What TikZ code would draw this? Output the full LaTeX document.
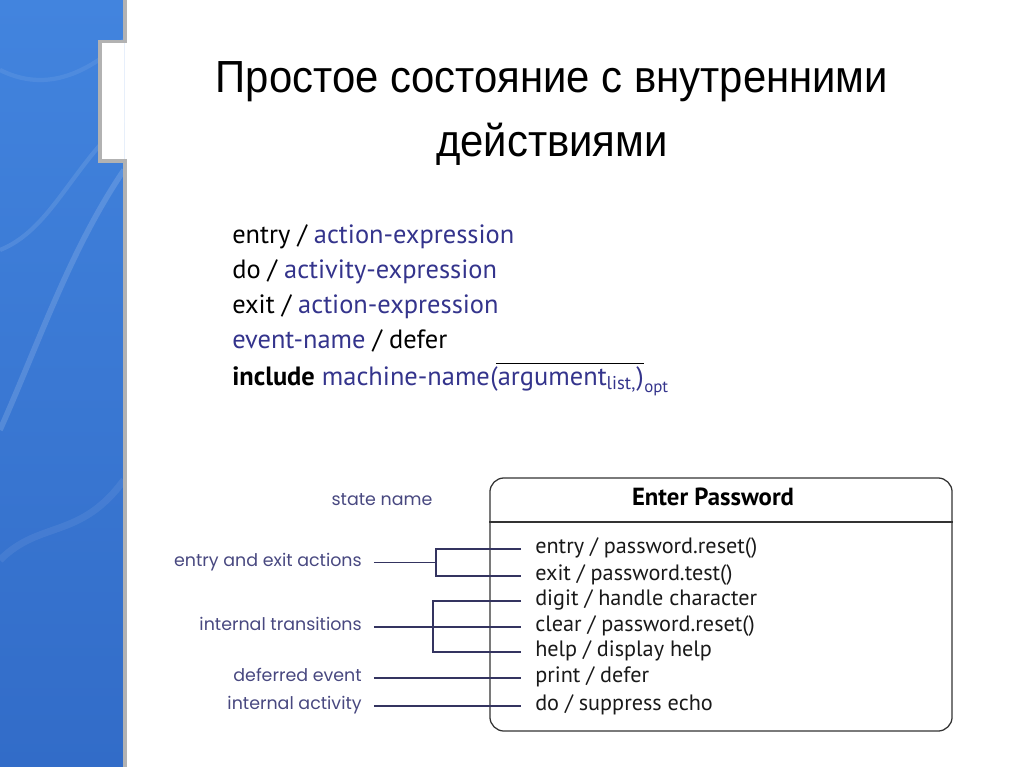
\documentclass[tikz,border=0pt]{standalone}
\usepackage{fontspec}
\setmainfont{PT Sans}
\newfontfamily\titlefont{Liberation Sans}[FakeStretch=0.93]
\newfontfamily\notefont{Poppins}
\usetikzlibrary{positioning,calc}

\definecolor{exprblue}{RGB}{52,52,140}
\definecolor{noteblue}{RGB}{72,72,128}
\definecolor{wireblue}{RGB}{52,52,96}
\definecolor{panellight}{RGB}{66,132,222}
\definecolor{paneldark}{RGB}{50,108,200}
\definecolor{edgegrey}{RGB}{178,178,178}

\tikzset{
  heading/.style={anchor=base, inner sep=0pt, font=\titlefont\fontsize{32}{38}\selectfont},
  syntax/.style={anchor=base west, inner sep=0pt, font=\fontsize{18.8}{22}\selectfont},
  row/.style={anchor=base west, inner sep=0pt, text=black!90, font=\fontsize{15.8}{18}\selectfont},
  note/.style={anchor=mid east, inner sep=0pt, text=noteblue, font=\notefont\fontsize{12.4}{15}\selectfont},
  wire/.style={draw=wireblue, line width=1pt},
  statebox/.style={draw=black!80, line width=0.9pt, rounded corners=10pt},
}

\begin{document}
\begin{tikzpicture}[x=0.025cm, y=-0.025cm]
  \useasboundingbox (0,0) rectangle (1024,767);

  % side panel
  \shade[top color=panellight, bottom color=paneldark] (0,0) rectangle (124,767);
  \draw[white, opacity=0.14, line width=4pt] (0,430) .. controls (40,340) and (70,250) .. (124,170);
  \draw[white, opacity=0.10, line width=3pt] (0,250) .. controls (50,230) and (70,170) .. (124,120);
  \draw[white, opacity=0.08, line width=3pt] (0,70) .. controls (40,90) and (80,80) .. (124,40);
  \draw[white, opacity=0.07, line width=5pt] (0,560) .. controls (40,520) and (80,540) .. (124,480);
  \fill[white] (100,41.5) rectangle (124,161);
  \draw[edgegrey, line width=2.8pt] (125,0) -- (125,41.5) -- (100,41.5) -- (100,161) -- (125,161) -- (125,767);

  % title
  \node[heading] (titleA) at (552,93) {Простое состояние с внутренними};
  \node[heading] (titleB) at (552,157) {действиями};

  % syntax
  \node[syntax] (sEntry) at (232,243) {entry / \textcolor{exprblue}{action-expression}};
  \node[syntax] (sDo) at (232,278) {do / \textcolor{exprblue}{activity-expression}};
  \node[syntax] (sExit) at (232,313) {exit / \textcolor{exprblue}{action-expression}};
  \node[syntax] (sDefer) at (232,348) {\textcolor{exprblue}{event-name} / defer};
  \node[syntax] (sInc) at (232,385) {\textbf{include} \textcolor{exprblue}{machine-name}};
  \node[syntax, text=exprblue] (sArgs) at (sInc.base east) {(argument\textsubscript{list,})};
  \node[syntax, text=exprblue, font=\fontsize{12}{14}\selectfont] (sOpt) at ([yshift=-5pt]sArgs.base east) {opt};
  \draw[black, line width=0.8pt] ([shift={(4pt,2pt)}]sArgs.north west) -- ([yshift=2pt]sArgs.north east);

  % state
  \node[statebox, minimum width=11.55cm, minimum height=6.325cm] (state) at (721,604.5) {};
  \draw[statebox, rounded corners=0pt] (state.west |- 0,522) -- (state.east |- 0,522);
  \node[anchor=base, inner sep=0pt, font=\bfseries\fontsize{17.6}{20}\selectfont] (stName) at (713,505) {Enter Password};

  \node[row] (rEntry) at (535,553) {entry / password.reset()};
  \node[row] (rExit) at (535,580) {exit / password.test()};
  \node[row] (rDigit) at (535,605) {digit / handle character};
  \node[row] (rClear) at (535,631) {clear / password.reset()};
  \node[row] (rHelp) at (535,656) {help / display help};
  \node[row] (rPrint) at (535,682) {print / defer};
  \node[row] (rDo) at (535,710) {do / suppress echo};

  \foreach \r in {Entry,Exit,Digit,Clear,Help,Print,Do}
    \coordinate (e\r) at ([shift={(-14,-4)}]r\r.base west);

  % notes
  \coordinate (noteX) at (362,0);
  \coordinate (eeMid) at ($(eEntry)!0.5!(eExit)$);
  \coordinate (eeBr) at (eeMid -| 436,0);
  \coordinate (itBr) at (eClear -| 433,0);
  \node[note, anchor=base] (nName) at (382,505) {state name};
  \node[note] (nEE) at (eeBr -| noteX) {entry and exit actions};
  \node[note] (nIT) at (eClear -| noteX) {internal transitions};
  \node[note] (nDE) at (ePrint -| noteX) {deferred event};
  \node[note] (nIA) at (eDo -| noteX) {internal activity};

  % connectors
  \draw[wire] ([xshift=8.5pt]nEE.mid east) -- (eeBr);
  \draw[wire] (eEntry) -| (eeBr) |- (eExit);
  \draw[wire] ([xshift=8.5pt]nIT.mid east) -- (eClear);
  \draw[wire] (eDigit) -| (itBr) |- (eHelp);
  \draw[wire] ([xshift=8.5pt]nDE.mid east) -- (ePrint);
  \draw[wire] ([xshift=8.5pt]nIA.mid east) -- (eDo);
\end{tikzpicture}
\end{document}
